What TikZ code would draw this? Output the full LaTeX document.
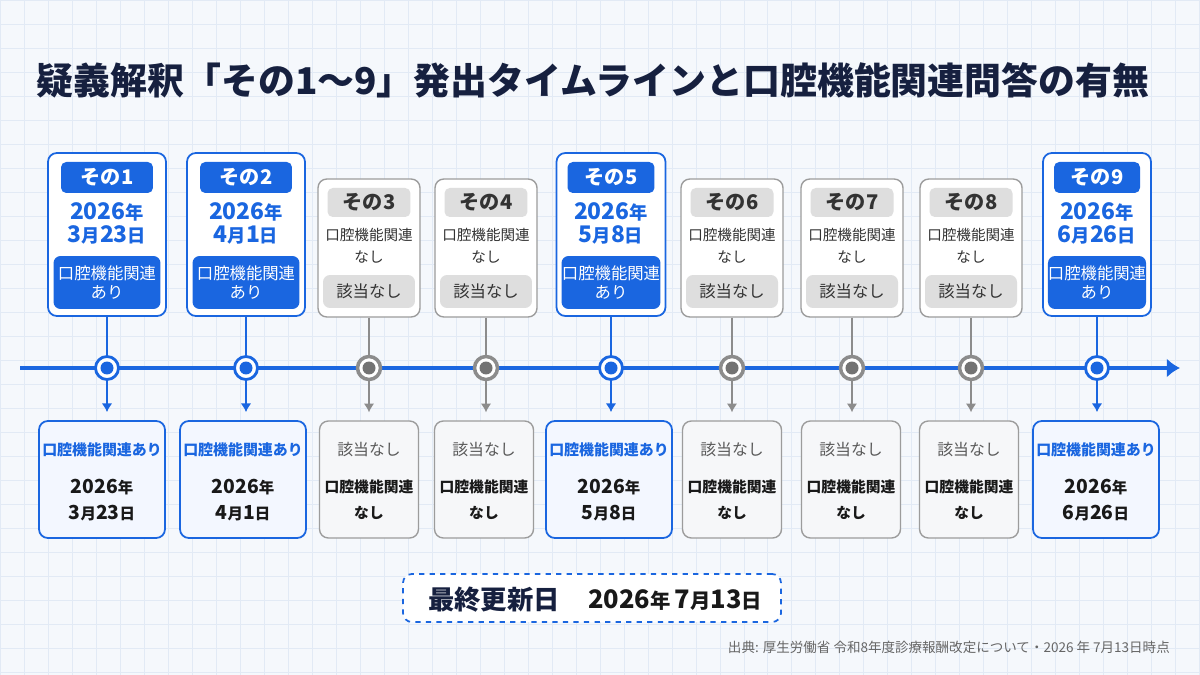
\documentclass[tikz,border=0pt]{standalone}
\usepackage{fontspec}
\setmainfont{Noto Sans CJK JP}
\usetikzlibrary{arrows.meta}
\tikzset{>=Latex}
\definecolor{mainblue}{HTML}{1A66E0}
\definecolor{navy}{HTML}{16203F}
\definecolor{paper}{HTML}{F5F8FC}
\definecolor{gridline}{HTML}{E2EAF5}
\definecolor{greyline}{HTML}{9C9C9C}
\definecolor{greyfill}{HTML}{DEDEDE}
\definecolor{greytext}{HTML}{333333}
\definecolor{softblue}{HTML}{F3F7FF}
\definecolor{softgrey}{HTML}{F6F7F9}
\newcommand{\dunit}[1]{\scalebox{0.8}{#1}}

\begin{document}
\begin{tikzpicture}[x=0.02cm, y=-0.02cm,
  bluecard/.style={rectangle, rounded corners=5pt, draw=mainblue, fill=white,
    line width=1pt, minimum width=#1, minimum height=3.26cm, inner sep=0pt},
  greycard/.style={rectangle, rounded corners=5pt, draw=greyline, fill=white,
    line width=0.8pt, minimum width=2.04cm, minimum height=2.76cm, inner sep=0pt},
  bluetag/.style={rectangle, rounded corners=3pt, fill=mainblue, text=white,
    font=\bfseries\fontsize{11.5}{13}\selectfont, minimum width=#1, minimum height=0.62cm, inner sep=0pt},
  greytag/.style={rectangle, rounded corners=3pt, fill=greyfill, text=greytext,
    font=\bfseries\fontsize{11.5}{13}\selectfont, minimum width=1.66cm, minimum height=0.58cm, inner sep=0pt},
  bluedate/.style={text=mainblue, font=\bfseries\fontsize{13}{13}\selectfont, align=center},
  blueflag/.style={rectangle, rounded corners=4pt, fill=mainblue, text=white, align=center,
    font=\fontsize{9.3}{11.3}\selectfont, minimum width=#1, minimum height=1.06cm, inner sep=0pt},
  greynote/.style={text=greytext, font=\fontsize{8.3}{12.5}\selectfont, align=center},
  greyflag/.style={rectangle, rounded corners=4pt, fill=greyfill, text=greytext,
    font=\fontsize{9.3}{11}\selectfont, minimum width=1.84cm, minimum height=0.66cm, inner sep=0pt},
  bluebox/.style={rectangle, rounded corners=5pt, draw=mainblue, fill=softblue,
    line width=1pt, minimum width=2.52cm, minimum height=2.34cm},
  greybox/.style={rectangle, rounded corners=5pt, draw=greyline, fill=softgrey,
    line width=0.8pt, minimum width=1.98cm, minimum height=2.34cm},
  boxhead/.style={text=mainblue, font=\bfseries\fontsize{8.5}{10}\selectfont},
  greyhead/.style={text=black!65, font=\fontsize{9}{10}\selectfont},
  boxdate/.style={text=black!90, font=\bfseries\fontsize{11}{14.7}\selectfont, align=center},
  boxnote/.style={text=black!90, font=\bfseries\fontsize{8.4}{14.7}\selectfont, align=center},
  bluedot/.style={circle, draw=mainblue, fill=white, line width=1.6pt, minimum size=0.46cm,
    inner sep=0pt, path picture={\fill[mainblue] (path picture bounding box.center) circle (0.13cm);}},
  greydot/.style={circle, draw=black!45, fill=white, line width=2pt, minimum size=0.46cm,
    inner sep=0pt, path picture={\fill[black!55] (path picture bounding box.center) circle (0.13cm);}},
  bluestem/.style={line width=0.8pt, draw=mainblue},
  greystem/.style={line width=0.8pt, draw=black!45},
  bluedrop/.style={-{Latex[length=5pt,width=6pt]}, line width=0.8pt, draw=mainblue, shorten >=0.16cm},
  greydrop/.style={-{Latex[length=5pt,width=6pt]}, line width=0.8pt, draw=black!45, shorten >=0.16cm}
]

% ---------- Background ----------
\useasboundingbox (0,0) rectangle (1200,675);
\fill[paper] (0,0) rectangle (1200,675);
\draw[gridline, line width=0.4pt, step=0.48cm] (0,0) grid (1200,675);

% ---------- Title ----------
\node[font=\bfseries\fontsize{21}{25}\selectfont, text=navy] (title) at (593,80)
  {疑義解釈「その1〜9」発出タイムラインと口腔機能関連問答の有無};

% ---------- Time axis ----------
\coordinate (axisL) at (20,368);
\coordinate (axisR) at (1180,368);
\draw[line width=2.3pt, mainblue, -{Latex[length=7.5pt,width=11pt]}] (axisL) -- (axisR);

% ---------- Top cards ----------
\node[bluecard=2.36cm] (top1) at (107,234.5) {};
\node[bluetag=1.84cm] (tag1) at (107,177.5) {その1};
\node[bluedate] (date1) at (107,223.5) {2026\dunit{年}\\3\dunit{月}23\dunit{日}};
\node[blueflag=2.14cm] (flag1) at (107,282.5) {口腔機能関連\\あり};

\node[bluecard=2.36cm] (top2) at (246,234.5) {};
\node[bluetag=1.84cm] (tag2) at (246,177.5) {その2};
\node[bluedate] (date2) at (246,223.5) {2026\dunit{年}\\4\dunit{月}1\dunit{日}};
\node[blueflag=2.14cm] (flag2) at (246,282.5) {口腔機能関連\\あり};

\node[greycard] (top3) at (369,248) {};
\node[greytag] (tag3) at (369,202.5) {その3};
\node[greynote] (note3) at (369,246) {口腔機能関連\\なし};
\node[greyflag] (flag3) at (369,291.5) {該当なし};

\node[greycard] (top4) at (486,248) {};
\node[greytag] (tag4) at (486,202.5) {その4};
\node[greynote] (note4) at (486,246) {口腔機能関連\\なし};
\node[greyflag] (flag4) at (486,291.5) {該当なし};

\node[bluecard=2.18cm] (top5) at (611,234.5) {};
\node[bluetag=1.74cm] (tag5) at (611,177.5) {その5};
\node[bluedate] (date5) at (611,223.5) {2026\dunit{年}\\5\dunit{月}8\dunit{日}};
\node[blueflag=1.98cm] (flag5) at (611,282.5) {口腔機能関連\\あり};

\node[greycard] (top6) at (732,248) {};
\node[greytag] (tag6) at (732,202.5) {その6};
\node[greynote] (note6) at (732,246) {口腔機能関連\\なし};
\node[greyflag] (flag6) at (732,291.5) {該当なし};

\node[greycard] (top7) at (852,248) {};
\node[greytag] (tag7) at (852,202.5) {その7};
\node[greynote] (note7) at (852,246) {口腔機能関連\\なし};
\node[greyflag] (flag7) at (852,291.5) {該当なし};

\node[greycard] (top8) at (971,248) {};
\node[greytag] (tag8) at (971,202.5) {その8};
\node[greynote] (note8) at (971,246) {口腔機能関連\\なし};
\node[greyflag] (flag8) at (971,291.5) {該当なし};

\node[bluecard=2.16cm] (top9) at (1097,234.5) {};
\node[bluetag=1.72cm] (tag9) at (1097,177.5) {その9};
\node[bluedate] (date9) at (1097,223.5) {2026\dunit{年}\\6\dunit{月}26\dunit{日}};
\node[blueflag=1.96cm] (flag9) at (1097,282.5) {口腔機能関連\\あり};

% ---------- Dots on the axis ----------
\node[bluedot] (dot1) at (107,368) {};
\node[bluedot] (dot2) at (246,368) {};
\node[greydot] (dot3) at (369,368) {};
\node[greydot] (dot4) at (486,368) {};
\node[bluedot] (dot5) at (611,368) {};
\node[greydot] (dot6) at (732,368) {};
\node[greydot] (dot7) at (852,368) {};
\node[greydot] (dot8) at (971,368) {};
\node[bluedot] (dot9) at (1097,368) {};

% ---------- Bottom cards ----------
\node[bluebox] (bot1) at (102,479.5) {};
\node[boxhead] (head1) at (102,450) {口腔機能関連あり};
\node[boxdate] (when1) at (102,500) {2026\dunit{年}\\3\dunit{月}23\dunit{日}};

\node[bluebox] (bot2) at (243,479.5) {};
\node[boxhead] (head2) at (243,450) {口腔機能関連あり};
\node[boxdate] (when2) at (243,500) {2026\dunit{年}\\4\dunit{月}1\dunit{日}};

\node[greybox] (bot3) at (369,479.5) {};
\node[greyhead] (head3) at (369,450) {該当なし};
\node[boxnote] (when3) at (369,500) {口腔機能関連\\なし};

\node[greybox] (bot4) at (484,479.5) {};
\node[greyhead] (head4) at (484,450) {該当なし};
\node[boxnote] (when4) at (484,500) {口腔機能関連\\なし};

\node[bluebox] (bot5) at (609,479.5) {};
\node[boxhead] (head5) at (609,450) {口腔機能関連あり};
\node[boxdate] (when5) at (609,500) {2026\dunit{年}\\5\dunit{月}8\dunit{日}};

\node[greybox] (bot6) at (732,479.5) {};
\node[greyhead] (head6) at (732,450) {該当なし};
\node[boxnote] (when6) at (732,500) {口腔機能関連\\なし};

\node[greybox] (bot7) at (851,479.5) {};
\node[greyhead] (head7) at (851,450) {該当なし};
\node[boxnote] (when7) at (851,500) {口腔機能関連\\なし};

\node[greybox] (bot8) at (969,479.5) {};
\node[greyhead] (head8) at (969,450) {該当なし};
\node[boxnote] (when8) at (969,500) {口腔機能関連\\なし};

\node[bluebox] (bot9) at (1096,479.5) {};
\node[boxhead] (head9) at (1096,450) {口腔機能関連あり};
\node[boxdate] (when9) at (1096,500) {2026\dunit{年}\\6\dunit{月}26\dunit{日}};

% ---------- Stems and drops ----------
\draw[bluestem] (top1.south) -- (dot1.north);
\draw[bluestem] (top2.south) -- (dot2.north);
\draw[greystem] (top3.south) -- (dot3.north);
\draw[greystem] (top4.south) -- (dot4.north);
\draw[bluestem] (top5.south) -- (dot5.north);
\draw[greystem] (top6.south) -- (dot6.north);
\draw[greystem] (top7.south) -- (dot7.north);
\draw[greystem] (top8.south) -- (dot8.north);
\draw[bluestem] (top9.south) -- (dot9.north);

\draw[bluedrop] (dot1.south) -- (dot1.south |- bot1.north);
\draw[bluedrop] (dot2.south) -- (dot2.south |- bot2.north);
\draw[greydrop] (dot3.south) -- (dot3.south |- bot3.north);
\draw[greydrop] (dot4.south) -- (dot4.south |- bot4.north);
\draw[bluedrop] (dot5.south) -- (dot5.south |- bot5.north);
\draw[greydrop] (dot6.south) -- (dot6.south |- bot6.north);
\draw[greydrop] (dot7.south) -- (dot7.south |- bot7.north);
\draw[greydrop] (dot8.south) -- (dot8.south |- bot8.north);
\draw[bluedrop] (dot9.south) -- (dot9.south |- bot9.north);

% ---------- Last update ----------
\node[rectangle, rounded corners=5pt, draw=mainblue, dashed, line width=1pt, fill=white,
  minimum width=7.56cm, minimum height=0.96cm] (update) at (592,598) {};
\node[font=\bfseries\fontsize{15}{18}\selectfont, text=navy] (updlabel) at (494,600) {最終更新日};
\node[font=\bfseries\fontsize{14.5}{18}\selectfont, text=black!90] (upddate) at (675,600)
  {2026\dunit{年}\,7\dunit{月}13\dunit{日}};

% ---------- Source ----------
\node[anchor=east, font=\fontsize{7.7}{9}\selectfont, text=black!60] (source) at (1176,647)
  {出典: 厚生労働省 令和8年度診療報酬改定について・2026 年 7月13日時点};

\end{tikzpicture}
\end{document}
